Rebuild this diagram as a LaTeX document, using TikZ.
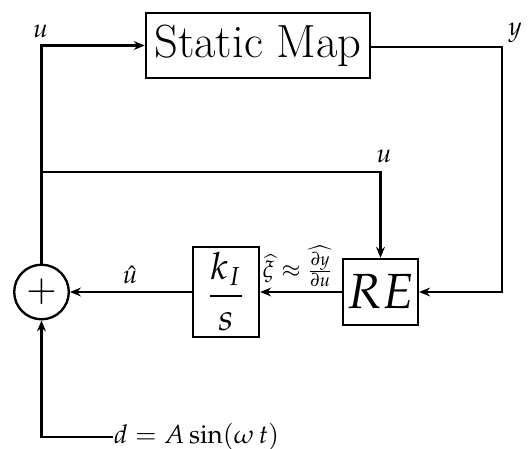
\documentclass[tikz,border=0pt]{standalone}
\usepackage{mathpazo}
\usepackage{amsmath}
\usetikzlibrary{arrows.meta}
\begin{document}
\begin{tikzpicture}[x=0.3846pt,y=-0.3846pt,
  every path/.style={line width=0.9pt},
  blk/.style={draw, line width=0.9pt, inner sep=0pt},
  arr/.style={-{Stealth[length=4.2pt,width=3.4pt]}},
  lbl/.style={inner sep=0pt}]
\useasboundingbox (0,0) rectangle (528,449);
\node[blk, minimum width=86.2pt, minimum height=25pt] (sm) at (258,45.5) {\fontsize{17.9}{21}\selectfont Static Map};
\node[blk, minimum width=28.8pt, minimum height=25.4pt] (re) at (380.5,292) {\fontsize{19}{23}\selectfont $RE$};
\node[blk, minimum width=25.4pt, minimum height=34.6pt] (ki) at (226,292) {\Large $\dfrac{k_I}{s}$};
\node[draw, circle, line width=0.9pt, minimum size=21pt, inner sep=0pt] (s) at (41.5,292) {\Large $+$};
\coordinate (tl) at (41.5,47);
\coordinate (tr) at (502,47);
\coordinate (br) at (41.5,172);
\node[lbl, anchor=west] (d) at (113,437) {$d = A\sin(\omega\, t)$};
\draw[arr] (s.north) |- (sm.west);
\draw[arr] (sm.east |- tr) -- (tr) |- (re.east);
\draw[arr] (br) -| (re.north);
\draw[arr] (re.west) -- (ki.east);
\draw[arr] (ki.west) -- (s.east);
\draw[arr] (d.west) -| (s.south);
\node[lbl] (lu1) at (40.5,31) {$u$};
\node[lbl] (ly) at (515,33) {$y$};
\node[lbl] (lu2) at (384,156) {$u$};
\node[lbl] (luh) at (130,275) {$\hat{u}$};
\node[lbl] (lxi) at (298,266) {\small $\widehat{\xi}\approx\widehat{\frac{\partial y}{\partial u}}$};
\end{tikzpicture}
\end{document}
